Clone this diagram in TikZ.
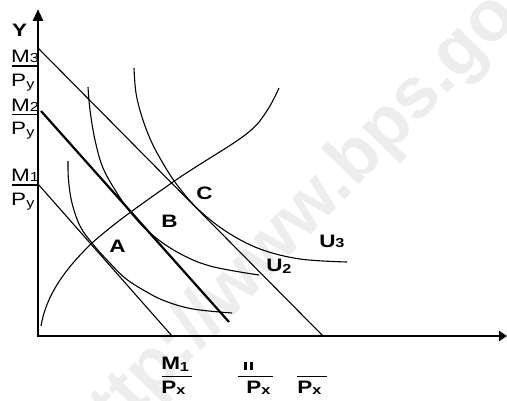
\documentclass[tikz,border=0pt]{standalone}
\usepackage{fontspec}
\setmainfont{Liberation Sans}
\usetikzlibrary{arrows.meta}
\newcommand\lblfont{\fontsize{18}{18}\selectfont}
\newcommand\subx[2]{\raisebox{#1}{\fontsize{13}{13}\selectfont #2}}
\begin{document}
\begin{tikzpicture}[x=1pt,y=-1pt,
  axis/.style={line width=2.6pt},
  budget/.style={line width=1.1pt},
  budgetthick/.style={line width=2.2pt},
  curve/.style={line width=1.1pt},
  ulin/.style={line width=1.4pt},
  lbl/.style={font=\lblfont\bfseries, inner sep=0pt, anchor=base west, xscale=1.25},
  frac/.style={font=\lblfont, inner sep=0pt, anchor=base west, xscale=1.25},
  wmark/.style={font=\fontsize{72}{72}\selectfont\bfseries, text=black!7, inner sep=0pt, anchor=base west, rotate=46}]
\useasboundingbox (0,0) rectangle (507,401);
% watermark
\node[wmark] (wm) at (88,466) {http://www.bps.go.id};
% axes
\coordinate (O) at (38,337.3);
\coordinate (ytop) at (38,9);
\coordinate (xO) at (36.7,336);
\coordinate (xend) at (507,336);
\draw[axis,-{Triangle[length=12pt,width=10pt]}] (O) -- (ytop);
\draw[axis,-{Triangle[length=8pt,width=10pt]}] (xO) -- (xend);
% budget lines
\coordinate (m3a) at (38,48);  \coordinate (m3b) at (323,336);
\coordinate (m2a) at (41,111); \coordinate (m2b) at (229,322);
\coordinate (m1a) at (38,184); \coordinate (m1b) at (172,336);
\draw[budget] (m3a) -- (m3b);
\draw[budgetthick] (m2a) -- (m2b);
\draw[budget] (m1a) -- (m1b);
% income expansion path
\coordinate (p0) at (41,326);
\coordinate (pA) at (92,243);
\coordinate (pC) at (173,182);
\coordinate (p1) at (279,88);
\draw[curve] (p0) .. controls (46,296) and (64,270) .. (pA)
  .. controls (118,220) and (146,201) .. (pC)
  .. controls (215,153) and (250,137) .. (262,118)
  .. controls (270,107) and (274,99) .. (p1);
% indifference curves
\draw[curve] plot[smooth, tension=0.6] coordinates {(68,161) (68.5,180) (72,203) (80,226) (92,243) (107,260) (125,278) (145,291) (165,301) (193,309) (232,313)};
\draw[curve] plot[smooth, tension=0.6] coordinates {(88,87) (90,110) (95,140) (103,168) (117,193) (131,213) (150,233) (177,252) (210,266) (259,275)};
\draw[curve] plot[smooth, tension=0.6] coordinates {(134,68) (136,93) (142,117) (152,143) (167,170) (181,190) (200,211) (227,232) (260,249) (300,259) (347,262)};
% point labels
\node[lbl] (Y) at (12,37) {Y};
\node[lbl] (A) at (109,253) {A};
\node[lbl] (B) at (161,228) {B};
\node[lbl] (C) at (196,200) {C};
\node[lbl] (U2) at (266,272) {U\subx{-1.5pt}{2}};
\node[lbl] (U3) at (319,248) {U\subx{0pt}{3}};
% left fractions
\node[frac] (M3) at (11,63) {M\subx{0pt}{3}};
\draw[ulin] (12,66) -- (37,66);
\node[frac] (Py3) at (11,87) {P\subx{-2pt}{y}};
\node[frac] (M2) at (11,112) {M\subx{0pt}{2}};
\draw[ulin] (12,114.5) -- (37,114.5);
\node[frac] (Py2) at (11,135) {P\subx{-2pt}{y}};
\node[frac] (M1) at (11,182) {M\subx{0pt}{1}};
\draw[ulin] (12,185) -- (37,185);
\node[frac] (Py1) at (11,206) {P\subx{-2pt}{y}};
% bottom fractions
\node[lbl] (bM1) at (161,370) {M\subx{-1.5pt}{1}};
\draw[ulin] (162,376.8) -- (192,376.8);
\node[lbl] (bPx1) at (161,394) {P\subx{-1pt}{x}};
\fill (244,362) rectangle (247,370);
\fill (250,362) rectangle (253,370);
\draw[ulin] (238,376.8) -- (273,376.8);
\node[lbl] (bPx2) at (246,394) {P\subx{-1pt}{x}};
\draw[ulin] (297,376.8) -- (327,376.8);
\node[lbl] (bPx3) at (297,394) {P\subx{-1pt}{x}};
\end{tikzpicture}
\end{document}
